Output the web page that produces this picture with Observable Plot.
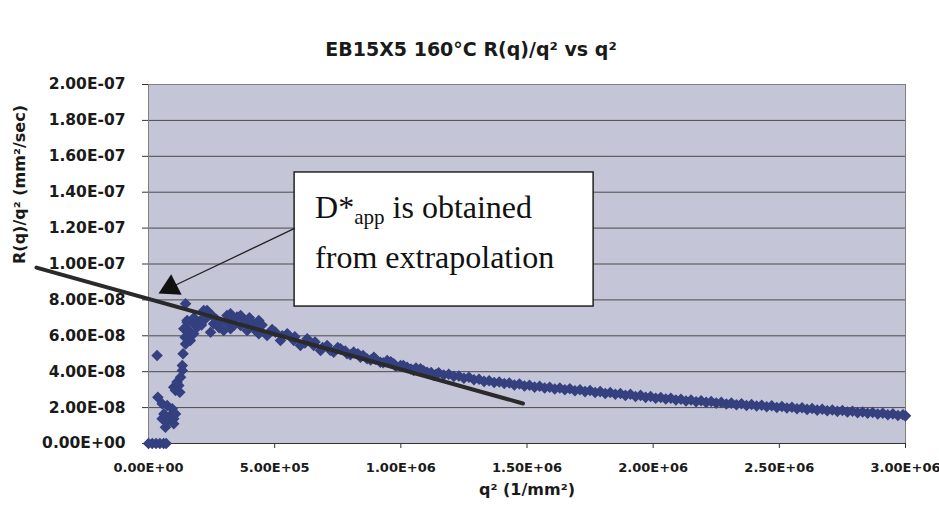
<!DOCTYPE html>
<html><head><meta charset="utf-8">
<script src="https://cdn.jsdelivr.net/npm/d3@7"></script>
<script src="https://cdn.jsdelivr.net/npm/@observablehq/plot@0.6"></script>
<style>
body{margin:0;background:#fff;}
#chart{width:939px;height:506px;}
</style></head><body><div id="chart"></div>
<script>
const title = "EB15X5 160°C R(q)/q² vs q²";
const xLabel = "q² (1/mm²)";
const yLabel = "R(q)/q² (mm²/sec)";
const xTicks = [0, 5e5, 1e6, 1.5e6, 2e6, 2.5e6, 3e6];
const yTicks = [0, 2e-8, 4e-8, 6e-8, 8e-8, 1e-7, 1.2e-7, 1.4e-7, 1.6e-7, 1.8e-7, 2e-7];

// Units: q² in 1e4 (1/mm²), R(q)/q² in 1e-9 (mm²/sec)
const zeroQ2 = [0, 1.5, 3, 4.5, 6, 7];
const zeroR  = [0, 0, 0, 0, 0, 0];

const riseQ2 = [3.4, 3.7, 5.4, 7.4, 9.4, 6.1, 8.7, 10, 5.4, 7.4, 6.7, 10, 10.7, 10, 11.3, 10.7, 12.4, 12, 12.7, 13.4, 13.4, 13.7, 14.7, 16.6, 15.3, 14, 16, 17.9, 15.3, 17.3, 14.7, 15.3, 14.5];
const riseR  = [49, 25.8, 22.1, 21.2, 19.3, 16.5, 15.6, 13.8, 13.8, 11.9, 9.1, 11, 16.5, 31.4, 34.2, 29.5, 28.6, 32.3, 36.9, 40.7, 43.5, 50, 55.5, 57.4, 59.2, 63.9, 63, 61.1, 68.5, 67.6, 77.8, 67.6, 59.2];

const peakQ2 = [19.3, 20.6, 22.6, 24.6, 23.2, 25.8, 28.5, 31.1, 32.5, 35.1, 36.5, 39.1, 41.1, 43, 43.7, 21.9, 25.2, 29.8, 32.5, 36.5, 39.8, 43.7, 18, 21, 24, 27, 28, 31, 33, 34, 38, 40, 42, 44];
const peakR  = [64.8, 68.5, 69.5, 62, 74.1, 66.7, 67.6, 71.3, 63.9, 70.4, 65.7, 63, 67.6, 64.8, 61.1, 74.1, 71.3, 63, 72.3, 71.3, 65.7, 68.5, 70, 66, 72.5, 69, 64.5, 67.5, 69.5, 66, 68.5, 70, 63.5, 66.5];

const midQ2 = [47, 50.3, 52.3, 55, 57.6, 60.2, 62.9, 65.5, 68.2, 70.8, 73.4, 76.1, 78.7, 81.3, 84, 86.6, 89.3, 91.9, 94.6, 97.2, 99.9, 102.5, 105.1, 107.8, 110.4, 113.1,
               45, 49, 53, 58, 62, 66, 69, 72, 75, 78, 80, 83, 85, 88, 90, 93, 96, 98, 101, 104, 106, 109, 112, 114];
const midR  = [60.2, 62, 57.4, 61.1, 57.4, 54.6, 58.3, 54.6, 51.8, 54.6, 50.9, 52.8, 50, 50.9, 48.1, 47.2, 48.1, 45.3, 46.2, 44.4, 43.5, 42.5, 40.7, 41.6, 39.7, 37.9,
               66, 63.5, 60, 59.5, 56, 56.5, 53.5, 52, 53.5, 51.5, 49.5, 50, 49, 46.5, 47, 45, 45.5, 43, 43.5, 41.5, 42, 40.5, 39.5, 38.5];

const tailQ2 = [115, 117, 119, 121, 123, 125, 127, 129, 131, 133, 135, 137, 139, 141, 143, 145, 147, 149, 151, 153, 155, 157, 159, 161, 163, 165, 167, 169, 171, 173, 175, 177, 179, 181, 183, 185, 187, 189, 191, 193, 195, 197, 199, 201, 203, 205, 207, 209, 211, 213, 215, 217, 219, 221, 223, 225, 227, 229, 231, 233, 235, 237, 239, 241, 243, 245, 247, 249, 251, 253, 255, 257, 259, 261, 263, 265, 267, 269, 271, 273, 275, 277, 279, 281, 283, 285, 287, 289, 291, 293, 295, 297, 299, 300];
const tailR  = [39.4, 38.2, 38.6, 37.4, 37.6, 36.4, 36.9, 35.5, 35.8, 34.6, 35.0, 34.0, 34.3, 33.4, 33.7, 32.6, 33.1, 32.0, 32.5, 31.4, 31.9, 30.9, 31.3, 30.4, 30.9, 29.9, 30.5, 29.4, 30.0, 28.9, 29.5, 28.4, 28.9, 27.9, 28.4, 27.4, 27.9, 26.8, 27.4, 26.2, 26.8, 25.7, 26.2, 25.2, 25.6, 24.8, 25.2, 24.2, 24.7, 23.7, 24.2, 23.3, 23.8, 22.9, 23.4, 22.5, 22.9, 22.0, 22.5, 21.6, 22.1, 21.2, 21.7, 20.9, 21.3, 20.5, 21.0, 20.1, 20.6, 19.8, 20.2, 19.4, 19.9, 19.0, 19.5, 18.6, 19.1, 18.3, 18.7, 17.9, 18.4, 17.5, 18.0, 17.2, 17.6, 16.8, 17.3, 16.4, 16.9, 16.0, 16.5, 15.6, 16.0, 15.4];

// extrapolation line (real units)
const fitQ2 = [-4.44e5, 1.484e6];
const fitR  = [9.8e-8, 2.23e-8];

// annotation (real units)
const boxQ2 = [5.79e5, 1.764e6];
const boxR  = [7.63e-8, 1.51e-7];
const arrowQ2 = [5.79e5, 8.7e4];
const arrowR  = [1.198e-7, 8.69e-8];

const Q2_UNIT = 1e4, R_UNIT = 1e-9;
function toPoints(qs, rs) { return qs.map((q, i) => ({x: q * Q2_UNIT, y: rs[i] * R_UNIT})); }
const points = [
  ...toPoints(zeroQ2, zeroR), ...toPoints(riseQ2, riseR), ...toPoints(peakQ2, peakR),
  ...toPoints(midQ2, midR), ...toPoints(tailQ2, tailR)
];
const fit = fitQ2.map((q, i) => ({x: q, y: fitR[i]}));
const box = [{x1: boxQ2[0], x2: boxQ2[1], y1: boxR[0], y2: boxR[1]}];
const arrow = [{x1: arrowQ2[0], y1: arrowR[0], x2: arrowQ2[1], y2: arrowR[1]}];

function sci(d) {
  const [m, e] = d.toExponential(2).split("e");
  const s = e[0] === "-" ? "-" : "+";
  const n = e.replace(/[+-]/, "").padStart(2, "0");
  return m + "E" + s + n;
}

const plot = Plot.plot({
  width: 939, height: 506,
  marginLeft: 148, marginRight: 34, marginTop: 84, marginBottom: 63,
  style: {fontFamily: "'DejaVu Sans', sans-serif", fontWeight: "bold", fontSize: "15px", color: "#1a1a1a", background: "white", overflow: "visible"},
  x: {domain: [0, 3e6]},
  y: {domain: [0, 2e-7]},
  marks: [
    Plot.frame({fill: "#c5c5d8"}),
    Plot.gridY(yTicks, {stroke: "#4a4a4a", strokeOpacity: 1, strokeWidth: 1}),
    Plot.frame({stroke: "#808080"}),
    Plot.ruleY([0], {stroke: "#333"}),
    Plot.axisX(xTicks, {tickFormat: sci, tickSize: 5, tickPadding: 14, fontSize: 13, label: null, stroke: "#333"}),
    Plot.axisY(yTicks, {tickFormat: sci, tickSize: 6, tickPadding: 17, fontSize: 15.5, label: null, stroke: "#333"}),
    Plot.dot(points, {x: "x", y: "y", symbol: "diamond2", r: 5.2, fill: "#34407f"}),
    Plot.line(fit, {x: "x", y: "y", stroke: "#2a2a2a", strokeWidth: 4}),
    Plot.rect(box, {x1: "x1", x2: "x2", y1: "y1", y2: "y2", fill: "white", stroke: "#222", strokeWidth: 1.5}),
    Plot.link(arrow, {x1: "x1", y1: "y1", x2: "x2", y2: "y2", stroke: "#222", strokeWidth: 1.3}),
    Plot.dot(arrow, {x: "x2", y: "y2", symbol: "triangle", r: 8.6, rotate: 243, fill: "#111"}),
    Plot.text([title], {frameAnchor: "top", dy: -42, dx: -56, fontSize: 19, fontWeight: "bold"}),
    Plot.text([yLabel], {frameAnchor: "left", dx: -129, rotate: -90, fontSize: 16, fontWeight: "bold"}),
    Plot.text([xLabel], {frameAnchor: "bottom", dy: 51, fontSize: 16, fontWeight: "bold"})
  ]
});

// Text inside the annotation box, placed through the plot's scales
const xs = plot.scale("x"), ys = plot.scale("y");
const bl = xs.apply(boxQ2[0]), bt = ys.apply(boxR[1]);
const g = d3.select(plot).append("g")
  .attr("font-family", "'Liberation Serif', 'Times New Roman', serif")
  .attr("text-anchor", "start")
  .attr("font-weight", "normal").attr("fill", "#111").attr("font-size", 32);
const t1 = g.append("text").attr("x", bl + 21).attr("y", bt + 46);
t1.append("tspan").text("D*");
t1.append("tspan").attr("font-size", 21).attr("dy", 6).text("app");
t1.append("tspan").attr("dy", -6).text(" is obtained");
g.append("text").attr("x", bl + 21).attr("y", bt + 96).text("from extrapolation");

document.getElementById("chart").appendChild(plot);
</script></body></html>
